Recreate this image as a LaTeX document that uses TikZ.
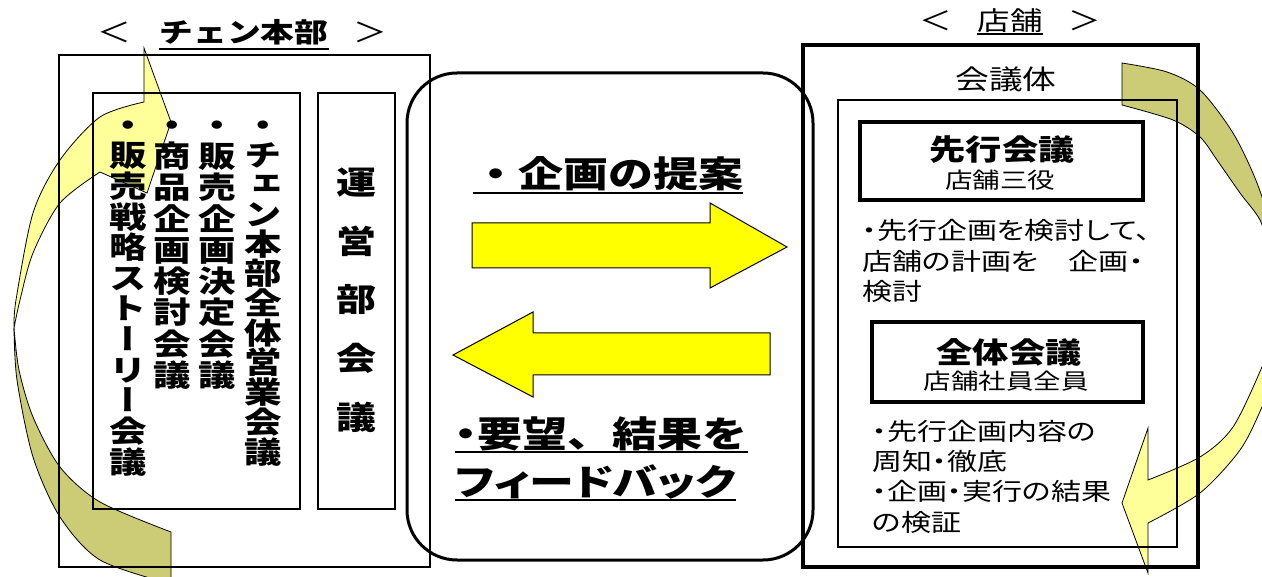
\documentclass[tikz,border=0pt]{standalone}
\usepackage{fontspec}
\newfontfamily\jp[FakeStretch=1.25]{Noto Sans CJK JP}
\newfontfamily\jpp[FakeStretch=1.25,RawFeature=+palt]{Noto Sans CJK JP}
\newfontfamily\jpv[FakeStretch=1.25,RawFeature=+vert]{Noto Sans CJK JP}
\definecolor{lyel}{RGB}{255,255,153}
\definecolor{olv}{RGB}{204,204,119}
\definecolor{ayel}{RGB}{255,255,0}
\newcommand\fs[1]{\fontsize{#1}{#1}\selectfont}
\tikzset{
  thinbox/.style={draw=black,line width=1.2pt},
  bigarrow/.style={draw=black,line width=0.8pt},
  carrow/.style={fill=ayel,draw=black,line width=1pt},
  vchar/.style={font=\jpv\bfseries\fs{30},anchor=base,inner sep=0pt},
  bchar/.style={font=\jp\bfseries\fs{32},anchor=base,inner sep=0pt},
  txt/.style={anchor=base,inner sep=0pt},
  uline/.style={line width=1.8pt}
}
\newcommand\vcolumn[5]{\foreach \ch [count=\i from 0] in {#5} {\node[vchar] (#1-\i) at ({#2},{#3+\i*#4}) {\ch};}}
\begin{document}
\begin{tikzpicture}[x=1pt,y=-1pt]
\useasboundingbox (0,0) rectangle (1262,577);
\fill[white] (0,0) rectangle (1262,577);

% big curved arrows (behind everything)
\begin{scope}
\clip (0,0) rectangle (1262,577);
\filldraw[bigarrow,fill=olv] (171,532) -- (171,584) -- plot[smooth] coordinates {(171,584) (100,560) (60,517) (33,457) (17,380) (14,328)} -- plot[smooth] coordinates {(14,328) (19,370) (33,417) (60,467) (100,502) (171,532)} -- cycle;
\filldraw[bigarrow,fill=lyel] (14,328) -- plot[smooth] coordinates {(14,328) (16,300) (33,213) (60,160) (100,117) (144,102)} -- (144,48) -- (171,122) -- (147,193) -- (100,172) -- plot[smooth] coordinates {(100,172) (60,203) (33,253) (20,300) (14,328)} -- cycle;
\filldraw[bigarrow,fill=olv] (1122,105) -- (1122,63) -- plot[smooth] coordinates {(1122,63) (1167,72) (1200,90) (1233,133) (1257,183) (1275,240) (1285,290)} -- plot[smooth] coordinates {(1285,290) (1272,255) (1260,220) (1240,193) (1217,160) (1200,137) (1173,120) (1122,105)} -- cycle;
\filldraw[bigarrow,fill=lyel] (1285,290) -- plot[smooth] coordinates {(1285,290) (1276,330) (1262,367) (1233,427) (1200,457) (1148,480)} -- (1148,428) -- (1122,503) -- (1148,573) -- (1148,523) -- plot[smooth] coordinates {(1148,523) (1200,493) (1240,450) (1262,407) (1285,350) (1295,300) (1285,290)} -- cycle;
\end{scope}

% left: chain headquarters
\draw[thinbox] (59,55) rectangle (430,567);
\draw[thinbox] (93,93) rectangle (300,509);
\draw[thinbox] (318,93) rectangle (395,509);
\node[txt,font=\jp\fs{27}] (lt1) at (114,43) {＜};
\node[txt,font=\jp\bfseries\fs{27}] (lt2) at (244,43) {チェン本部};
\node[txt,font=\jp\fs{27}] (lt3) at (370,43) {＞};
\draw[uline] ([yshift=-6pt]lt2.base west) -- ([yshift=-6pt]lt2.base east);

\vcolumn{ca}{128}{136.4}{30.6}{・,販,売,戦,略,ス,ト,ー,リ,ー,会,議}
\vcolumn{cb}{172}{136.4}{31.25}{・,商,品,企,画,検,討,会,議}
\vcolumn{cc}{217}{136.4}{31.25}{・,販,売,企,画,決,定,会,議}
\vcolumn{cd}{263}{136.4}{29.7}{・,チ,ェ,ン,本,部,全,体,営,業,会,議}

\node[bchar] (u1) at (356,195) {運};
\node[bchar] (u2) at (356,254) {営};
\node[bchar] (u3) at (356,312) {部};
\node[bchar] (u4) at (356,371) {会};
\node[bchar] (u5) at (356,430) {議};

% centre
\draw[line width=3pt,rounded corners=50pt] (407,73) rectangle (813,560);
\filldraw[carrow] (472,223) -- (710,223) -- (710,203) -- (787,247) -- (710,288) -- (710,268) -- (472,268) -- cycle;
\filldraw[carrow] (770,333) -- (533,333) -- (533,312) -- (453,355) -- (533,397) -- (533,375) -- (770,375) -- cycle;
\node[txt,font=\jp\bfseries\fs{36}] (t1) at (608,188) {・企画の提案};
\draw[uline] ([yshift=-5pt]t1.base west) -- ([yshift=-5pt]t1.base east);
\node[txt,font=\jp\bfseries\fs{36},anchor=base west] (t2) at (455,447) {{\jpp\bfseries ・}要望、結果を};
\draw[uline] ([yshift=-5pt]t2.base west) -- ([yshift=-5pt]t2.base east);
\node[txt,font=\jpp\bfseries\fs{36},anchor=base west] (t3) at (455,495) {フィードバック};
\draw[uline] ([yshift=-5pt]t3.base west) -- ([yshift=-5pt]t3.base east);

% right: store
\draw[line width=3.5pt] (803,45) rectangle (1198,567);
\draw[line width=2pt] (838,100) rectangle (1177,547);
\draw[line width=4pt] (860,122) rectangle (1143,200);
\draw[line width=3.5pt] (872,322) rectangle (1143,402);
\node[txt,font=\jp\fs{26}] (rt1) at (936,31) {＜};
\node[txt,font=\jp\fs{26}] (rt2) at (1010,31) {店舗};
\node[txt,font=\jp\fs{26}] (rt3) at (1085,31) {＞};
\draw[line width=1.3pt] ([yshift=-3pt]rt2.base west) -- ([yshift=-3pt]rt2.base east);
\node[txt,font=\jp\fs{27}] (kg) at (1006,90) {会議体};
\node[txt,font=\jp\bfseries\fs{29}] (s1) at (1002,161) {先行会議};
\node[txt,font=\jp\fs{22}] (s2) at (1000,189) {店舗三役};
\node[txt,font=\jp\bfseries\fs{29}] (z1) at (1009,364) {全体会議};
\node[txt,font=\jp\fs{22}] (z2) at (1006,390) {店舗社員全員};
\node[txt,font=\jpp\fs{24},anchor=base west] (p1) at (862,240) {・先行企画を検討して、};
\node[txt,font=\jpp\fs{24},anchor=base west] (p2) at (862,271) {店舗の計画を　企画・};
\node[txt,font=\jpp\fs{24},anchor=base west] (p3) at (862,301) {検討};
\node[txt,font=\jpp\fs{24},anchor=base west] (q1) at (872,441) {・先行企画内容の};
\node[txt,font=\jpp\fs{24},anchor=base west] (q2) at (872,471) {周知・徹底};
\node[txt,font=\jpp\fs{24},anchor=base west] (q3) at (872,500) {・企画・実行の結果};
\node[txt,font=\jpp\fs{24},anchor=base west] (q4) at (872,531) {の検証};
\end{tikzpicture}
\end{document}
